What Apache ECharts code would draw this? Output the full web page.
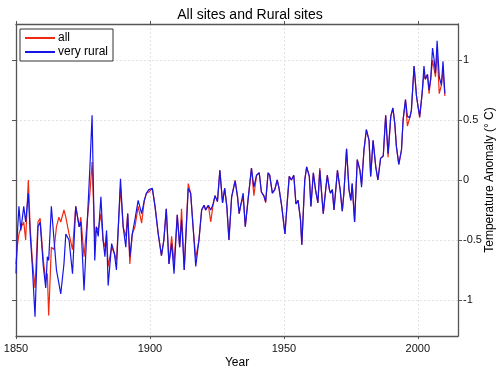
<!DOCTYPE html>
<html>
<head>
<meta charset="utf-8">
<script src="https://cdn.jsdelivr.net/npm/echarts@6/dist/echarts.min.js"></script>
<style>html,body{margin:0;padding:0;background:#fff;}#c{width:500px;height:369px;}</style>
</head>
<body>
<div id="c"></div>
<script>
// time points (years)
const years = [1850.0,1850.5,1851.1,1851.8,1852.9,1853.6,1854.6,1855.3,1856.1,1857.1,1858.2,1859.0,1860.2,1861.1,1861.7,1862.2,1863.2,1864.2,1865.1,1866.0,1866.7,1867.9,1868.6,1869.8,1871.1,1872.3,1873.6,1874.2,1875.4,1876.7,1877.6,1878.4,1879.4,1880.0,1880.7,1881.7,1882.5,1883.2,1883.8,1884.4,1885.7,1886.7,1887.5,1889.0,1890.0,1891.0,1891.7,1892.5,1893.4,1894.4,1895.6,1896.9,1897.9,1898.7,1899.6,1900.9,1901.9,1903.1,1904.3,1905.2,1906.1,1907.1,1908.1,1909.0,1910.2,1911.1,1911.8,1912.8,1914.3,1915.2,1916.1,1917.1,1918.3,1919.3,1920.2,1920.8,1921.8,1922.7,1923.6,1924.3,1925.2,1926.1,1927.1,1927.9,1928.7,1929.5,1930.5,1931.8,1932.7,1933.3,1933.8,1934.8,1935.6,1936.6,1937.9,1938.8,1939.8,1940.8,1941.6,1942.5,1943.2,1944.1,1944.7,1945.7,1946.6,1947.5,1948.2,1949.2,1950.4,1951.2,1952.0,1952.8,1953.7,1954.5,1955.3,1956.2,1956.7,1957.8,1958.5,1959.5,1960.1,1961.0,1961.8,1962.7,1963.4,1964.3,1964.7,1965.6,1966.2,1967.0,1967.4,1968.1,1968.7,1970.0,1971.0,1971.8,1972.4,1973.4,1974.3,1975.0,1975.5,1976.4,1977.4,1978.4,1979.0,1979.9,1980.8,1981.8,1982.4,1983.3,1984.3,1985.1,1986.1,1987.1,1988.0,1988.9,1989.9,1990.7,1991.4,1992.0,1992.9,1993.9,1994.5,1995.4,1996.1,1997.0,1997.6,1998.6,1999.5,2000.1,2000.7,2001.6,2002.3,2002.8,2003.6,2004.2,2004.8,2005.5,2006.1,2006.6,2007.2,2008.0,2008.8,2009.4,2010.1];
// "very rural" (blue)
const veryRural = [-0.78,-0.45,-0.22,-0.42,-0.22,-0.35,-0.11,-0.45,-0.72,-1.14,-0.39,-0.35,-0.72,-0.90,-0.64,-0.67,-0.22,-0.50,-0.75,-0.86,-0.95,-0.70,-0.45,-0.50,-0.78,-0.22,-0.39,-0.35,-0.92,-0.31,0.11,0.54,-0.67,-0.39,-0.47,-0.14,-0.50,-0.64,-0.42,-0.88,-0.53,-0.61,-0.75,0.01,-0.39,-0.56,-0.28,-0.64,-0.45,-0.33,-0.17,-0.28,-0.17,-0.11,-0.08,-0.07,-0.22,-0.45,-0.63,-0.50,-0.24,-0.70,-0.53,-0.78,-0.29,-0.56,-0.33,-0.75,-0.07,-0.11,-0.39,-0.72,-0.50,-0.25,-0.21,-0.25,-0.21,-0.25,-0.20,-0.13,-0.18,0.08,-0.19,-0.07,-0.22,-0.50,-0.14,-0.01,-0.14,-0.28,-0.22,-0.11,-0.39,-0.17,0.10,-0.06,0.04,0.06,-0.10,-0.13,-0.18,0.06,0.04,-0.11,-0.08,0.00,-0.07,-0.22,-0.45,-0.20,0.03,0.00,0.04,-0.20,-0.17,-0.33,-0.54,0.00,0.11,0.03,-0.22,0.06,-0.08,-0.19,0.08,-0.17,-0.28,-0.08,0.04,-0.08,-0.11,-0.08,-0.25,0.08,-0.08,-0.26,-0.11,0.26,-0.08,-0.17,-0.03,-0.35,0.17,0.08,-0.06,0.25,0.42,0.33,0.03,0.33,0.11,0.00,0.18,0.20,0.54,0.22,0.53,0.60,0.47,0.28,0.13,0.25,0.50,0.67,0.53,0.52,0.58,0.95,0.70,0.61,0.53,0.72,0.95,0.84,0.88,0.75,0.84,1.10,1.00,0.89,1.16,0.86,0.79,0.99,0.72];
// "all" (red)
const allSites = [-0.70,-0.55,-0.45,-0.40,-0.35,-0.50,0.00,-0.40,-0.67,-0.90,-0.35,-0.32,-0.67,-0.84,-0.78,-1.13,-0.56,-0.58,-0.39,-0.31,-0.35,-0.25,-0.31,-0.45,-0.58,-0.22,-0.39,-0.31,-0.64,-0.31,-0.11,0.15,-0.50,-0.39,-0.42,-0.28,-0.50,-0.56,-0.45,-0.72,-0.56,-0.61,-0.67,-0.06,-0.39,-0.47,-0.28,-0.70,-0.45,-0.39,-0.22,-0.36,-0.17,-0.11,-0.10,-0.07,-0.22,-0.45,-0.63,-0.50,-0.24,-0.70,-0.47,-0.70,-0.29,-0.56,-0.24,-0.75,-0.03,-0.11,-0.39,-0.65,-0.50,-0.25,-0.21,-0.25,-0.21,-0.35,-0.20,-0.13,-0.18,0.08,-0.19,-0.07,-0.22,-0.50,-0.14,0.00,-0.14,-0.28,-0.22,-0.14,-0.39,-0.17,0.10,-0.13,0.04,0.06,-0.10,-0.13,-0.19,0.06,0.04,-0.11,-0.08,0.00,-0.07,-0.22,-0.45,-0.20,0.03,0.00,0.04,-0.20,-0.17,-0.33,-0.54,0.00,0.11,0.03,-0.22,0.06,-0.08,-0.19,0.10,-0.17,-0.28,-0.08,0.04,-0.08,-0.11,-0.08,-0.25,0.08,-0.08,-0.26,-0.11,0.26,-0.08,-0.17,-0.03,-0.35,0.17,0.08,-0.03,0.25,0.42,0.33,0.03,0.33,0.11,0.00,0.18,0.20,0.54,0.19,0.53,0.60,0.47,0.28,0.13,0.25,0.50,0.67,0.45,0.52,0.58,0.95,0.70,0.61,0.52,0.72,0.89,0.84,0.88,0.72,0.84,1.00,1.00,0.86,1.08,0.72,0.79,0.92,0.70];
const xTicks = [1850, 1900, 1950, 2000];
const yTicks = [-1, -0.5, 0, 0.5, 1];

const pair = (vals) => years.map((y, i) => [y, vals[i]]);
const font = 'Arial, "Liberation Sans", sans-serif';
const frame = { show: true, onZero: false, lineStyle: { color: '#555', width: 1.3 } };
const grid = { show: true, lineStyle: { color: '#e2e2e2', type: [2, 2], width: 1 } };
const plain = (v) => String(v);

const chart = echarts.init(document.getElementById('c'), null, { renderer: 'canvas' });
chart.setOption({
  animation: false,
  backgroundColor: '#fff',
  title: {
    text: 'All sites and Rural sites', left: 'center', top: 3,
    textStyle: { fontFamily: font, fontSize: 14, fontWeight: 'normal', color: '#000' }
  },
  legend: {
    orient: 'vertical', left: 20, top: 29, padding: [3, 5, 3, 5], itemGap: 2,
    itemWidth: 30, itemHeight: 2, icon: 'rect',
    borderColor: '#333', borderWidth: 1, backgroundColor: '#fff',
    textStyle: { fontFamily: font, fontSize: 12, color: '#000', padding: [0, 0, 0, -2] },
    data: ['all', 'very rural']
  },
  grid: { left: 16, right: 42, top: 24, bottom: 33, outerBoundsMode: 'none', containLabel: false },
  xAxis: [{
    type: 'value', min: 1850, max: 2015, interval: 50, position: 'bottom',
    name: 'Year', nameLocation: 'middle', nameGap: 21, nameMoveOverlap: false,
    nameTextStyle: { fontFamily: font, fontSize: 12, color: '#000' },
    axisLine: frame,
    axisTick: { show: true, inside: false, length: 3, customValues: xTicks, lineStyle: { color: '#555' } },
    axisLabel: { customValues: xTicks, formatter: plain, fontFamily: font, fontSize: 11, color: '#111', margin: 7 },
    splitLine: grid
  }, {
    type: 'value', min: 1850, max: 2015, interval: 50, position: 'top',
    axisLine: frame,
    axisTick: { show: true, inside: false, length: 3, customValues: xTicks, lineStyle: { color: '#555' } },
    axisLabel: { show: false },
    splitLine: { show: false }
  }],
  yAxis: [{
    type: 'value', min: -1.3, max: 1.3, position: 'right',
    name: 'Temperature Anomaly (° C)', nameLocation: 'middle', nameGap: 26, nameRotate: 90,
    nameMoveOverlap: false,
    nameTextStyle: { fontFamily: font, fontSize: 12, color: '#000' },
    axisLine: frame,
    axisTick: { show: true, inside: false, length: 4, customValues: yTicks, lineStyle: { color: '#555' } },
    axisLabel: { customValues: yTicks, formatter: plain, fontFamily: font, fontSize: 11, color: '#111', margin: 5 },
    splitLine: grid
  }, {
    type: 'value', min: -1.3, max: 1.3, position: 'left',
    axisLine: frame,
    axisTick: { show: true, inside: false, length: 4, customValues: yTicks, lineStyle: { color: '#555' } },
    axisLabel: { show: false },
    splitLine: { show: false }
  }],
  series: [{
    name: 'all', type: 'line', data: pair(allSites), showSymbol: false, symbol: 'none',
    xAxisIndex: 0, yAxisIndex: 0,
    lineStyle: { color: '#f02a10', width: 1.2 }, itemStyle: { color: '#f02a10' }, z: 2
  }, {
    name: 'very rural', type: 'line', data: pair(veryRural), showSymbol: false, symbol: 'none',
    xAxisIndex: 0, yAxisIndex: 0,
    lineStyle: { color: '#1515e8', width: 1.2 }, itemStyle: { color: '#1515e8' }, z: 3
  }]
});
</script>
</body>
</html>
